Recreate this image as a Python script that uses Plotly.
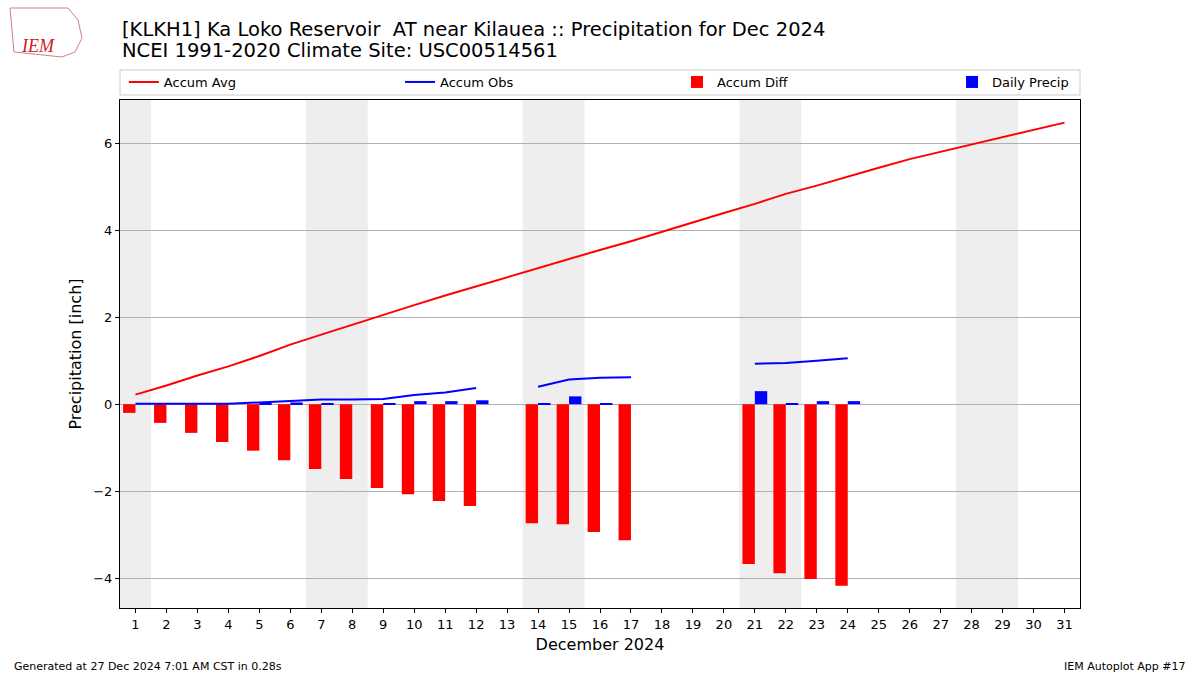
import datetime
import plotly.graph_objects as go

days = list(range(1, 32))
accum_avg = [0.22, 0.43, 0.66, 0.87, 1.11, 1.37, 1.60, 1.83, 2.05, 2.28, 2.50, 2.71,
             2.93, 3.14, 3.34, 3.55, 3.75, 3.97, 4.19, 4.40, 4.61, 4.84, 5.03, 5.24,
             5.44, 5.64, 5.81, 5.98, 6.15, 6.32, 6.48]
accum_obs = [0.01, 0.01, 0.01, 0.01, 0.04, 0.08, 0.11, 0.11, 0.12, 0.21, 0.27, 0.37,
             None, 0.40, 0.57, 0.61, 0.62, None, None, None, 0.93, 0.95, 1.00, 1.06,
             None, None, None, None, None, None, None]
accum_diff = [-0.20, -0.43, -0.66, -0.87, -1.07, -1.29, -1.49, -1.72, -1.93, -2.07, -2.23, -2.34,
              None, -2.74, -2.76, -2.94, -3.13, None, None, None, -3.68, -3.89, -4.02, -4.18,
              None, None, None, None, None, None, None]
daily_precip = [0.0, 0.0, 0.0, 0.0, 0.01, 0.04, 0.02, 0.0, 0.01, 0.07, 0.07, 0.09,
                None, 0.02, 0.18, 0.02, 0.0, None, None, None, 0.30, 0.02, 0.07, 0.07,
                None, None, None, None, None, None, None]
year, month = 2024, 12
yticks = [-4, -2, 0, 2, 4, 6]

fig = go.Figure()

# weekend shading
for d in days:
    if datetime.date(year, month, d).weekday() >= 5:
        fig.add_shape(type="rect", xref="x", yref="paper", x0=d - 0.5, x1=d + 0.5,
                      y0=0, y1=1, fillcolor="#eeeeee", line_width=0, layer="below")

fig.add_trace(go.Bar(x=days, y=accum_diff, name="Accum Diff", marker_color="red",
                     marker_line_width=0, width=0.4, offset=-0.4, legend="legend3"))
fig.add_trace(go.Bar(x=days, y=daily_precip, name="Daily Precip", marker_color="blue",
                     marker_line_width=0, width=0.4, offset=0, legend="legend4"))
fig.add_trace(go.Scatter(x=days, y=accum_avg, mode="lines", name="Accum Avg",
                         line=dict(color="red", width=2), legend="legend"))
fig.add_trace(go.Scatter(x=days, y=accum_obs, mode="lines", name="Accum Obs",
                         line=dict(color="blue", width=2), connectgaps=False, legend="legend2"))

H = 508.0
def py(p):
    return (608 - p) / H

fig.add_shape(type="rect", xref="paper", yref="paper", x0=0, x1=1, y0=py(95), y1=py(70),
              line=dict(color="#cccccc", width=1), fillcolor="white", layer="below")

annos = [
    dict(text="[KLKH1] Ka Loko Reservoir  AT near Kilauea :: Precipitation for Dec 2024",
         x=0, y=py(29), size=19.5),
    dict(text="NCEI 1991-2020 Climate Site: USC00514561", x=0, y=py(51), size=19.5),
]
for a in annos:
    fig.add_annotation(text=a["text"], xref="paper", yref="paper", x=a["x"], y=a["y"],
                       xanchor="left", yanchor="middle", showarrow=False,
                       font=dict(family="DejaVu Sans", size=a["size"], color="black"))

fig.add_annotation(text="Generated at 27 Dec 2024 7:01 AM CST in 0.28s", xref="paper", yref="paper",
                   x=-108 / 960, y=py(666), xanchor="left", yanchor="middle", showarrow=False,
                   font=dict(family="DejaVu Sans", size=11, color="black"))
fig.add_annotation(text="IEM Autoplot App #17", xref="paper", yref="paper",
                   x=1 + 108 / 960, y=py(666), xanchor="right", yanchor="middle", showarrow=False,
                   font=dict(family="DejaVu Sans", size=11, color="black"))
# logo approximation
fig.add_shape(type="path", xref="paper", yref="paper",
              path="M %f %f L %f %f L %f %f L %f %f L %f %f L %f %f L %f %f Z" % (
                  -110 / 960, py(8), -52 / 960, py(8), -42 / 960, py(20), -38 / 960, py(38),
                  -45 / 960, py(52), -58 / 960, py(57), -106 / 960, py(52)),
              line=dict(color="#d08080", width=1))
fig.add_annotation(text="<i>IEM</i>", xref="paper", yref="paper", x=-82 / 960, y=py(46),
                   xanchor="center", yanchor="middle", showarrow=False,
                   font=dict(family="Liberation Serif", size=18, color="#cc2222"))

leg_common = dict(orientation="h", yanchor="middle", xanchor="left", y=py(82),
                  bgcolor="rgba(0,0,0,0)", font=dict(size=13), itemwidth=30)
fig.update_layout(
    width=1200, height=675,
    margin=dict(l=120, r=120, t=100, b=67, autoexpand=False),
    plot_bgcolor="white", paper_bgcolor="white",
    barmode="overlay",
    font=dict(family="DejaVu Sans", size=14, color="black"),
    showlegend=True,
    legend=dict(x=0.004, **leg_common),
    legend2=dict(x=0.2917, **leg_common),
    legend3=dict(x=0.5802, **leg_common),
    legend4=dict(x=0.8667, **leg_common),
)
fig.update_xaxes(range=[0.5, 31.5], tickmode="array", tickvals=days, ticktext=[str(d) for d in days],
                 ticks="outside", ticklen=4, tickcolor="black", showgrid=False, zeroline=False,
                 showline=True, linecolor="black", linewidth=1, mirror=True,
                 title=dict(text="December 2024", font=dict(size=16), standoff=8),
                 tickfont=dict(size=13))
fig.update_yaxes(range=[-4.69, 7.0], tickmode="array", tickvals=yticks,
                 ticks="outside", ticklen=4, tickcolor="black", showgrid=True, gridcolor="#b0b0b0",
                 zeroline=False, showline=True, linecolor="black", linewidth=1, mirror=True,
                 title=dict(text="Precipitation [inch]", font=dict(size=16), standoff=7),
                 tickfont=dict(size=13))

fig.write_html("out.html", config={"displayModeBar": False},
               post_script="document.body.style.margin='0px';")
